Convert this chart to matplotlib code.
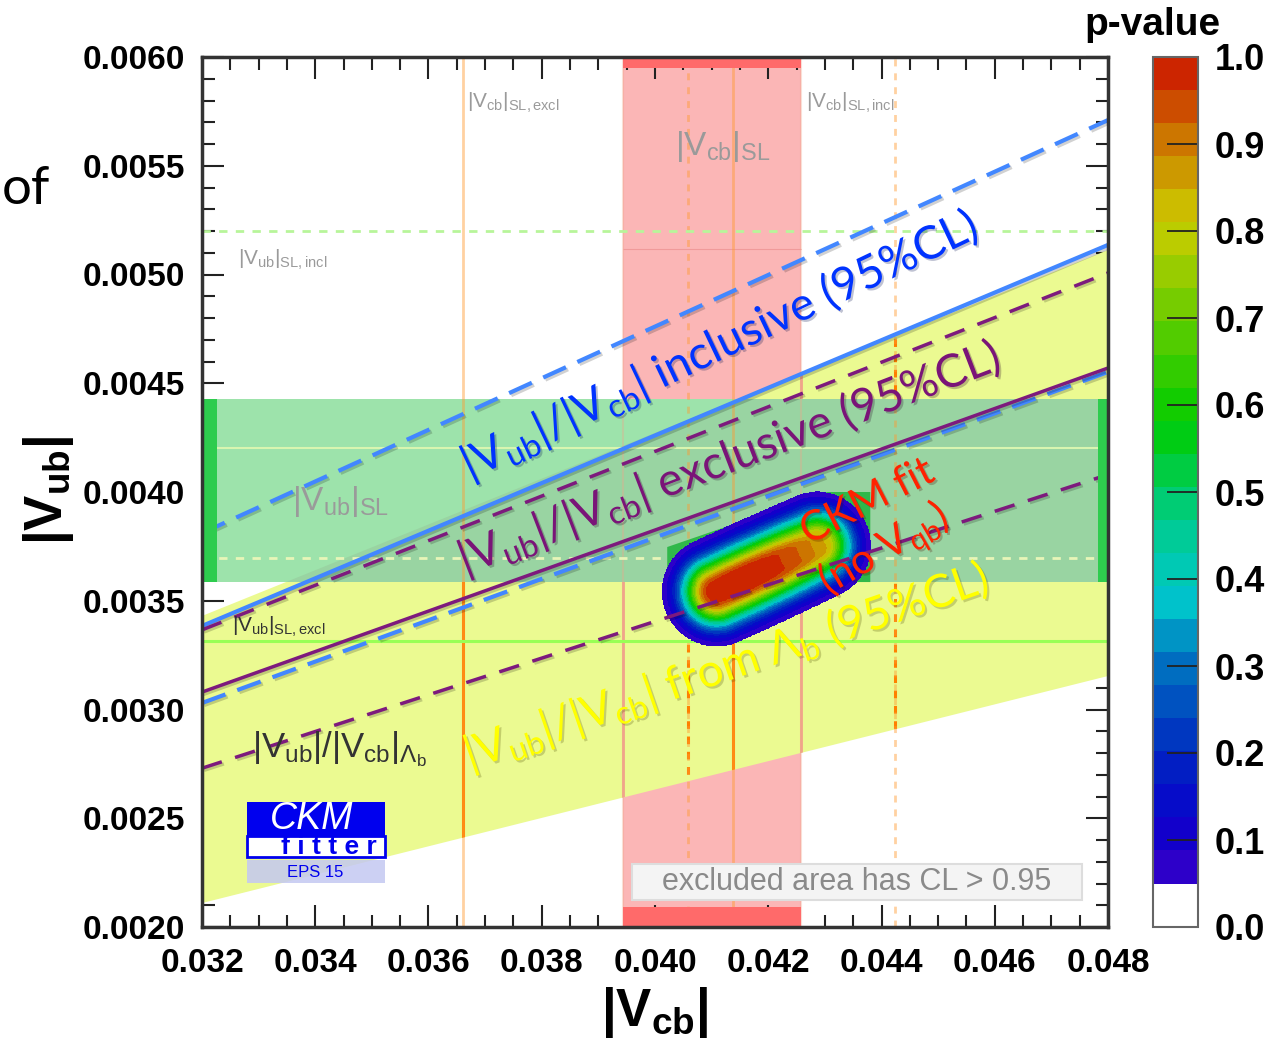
import numpy as np
import matplotlib
matplotlib.use("Agg")
import matplotlib.pyplot as plt
import matplotlib.patheffects as pe
from matplotlib.colors import LinearSegmentedColormap, ListedColormap, BoundaryNorm
from matplotlib.patches import Rectangle, Polygon
from matplotlib.ticker import MultipleLocator, FormatStrFormatter
from matplotlib.cm import ScalarMappable

plt.rcParams['font.family'] = ['Liberation Sans', 'DejaVu Sans']
plt.rcParams['mathtext.fontset'] = 'custom'
plt.rcParams['mathtext.rm'] = 'Liberation Sans'
plt.rcParams['mathtext.it'] = 'Liberation Sans:italic'
plt.rcParams['mathtext.bf'] = 'Liberation Sans:bold'
plt.rcParams['mathtext.sf'] = 'Lato'

# axis ranges
vcb_range = [0.032, 0.048]
vub_range = [0.0020, 0.0060]

# |Vub| of each ratio line at the two ends of the |Vcb| range
incl_upper = [0.003811, 0.005710]
incl_central = [0.003384, 0.005136]
incl_lower = [0.003030, 0.004552]
excl_upper = [0.003366, 0.005007]
excl_central = [0.003080, 0.004570]
excl_lower = [0.002730, 0.004080]
lambdab_hi = [0.003430, 0.005113]
lambdab_lo = [0.002110, 0.003154]

# semileptonic |Vcb| and |Vub| constraints
vcb_sl_band = [0.03944, 0.04258]
vcb_solid_lines = [0.03661, 0.04138]
vcb_dotted_lines = [0.04059, 0.04424]
vub_sl_band = [0.003586, 0.004428]
vub_sl_central = 0.004202
vub_incl_line = 0.005200
vub_inner_dotted = 0.003697
vub_excl_line = 0.003315
vcb_sl_edge_line = 0.005117

# CKM fit: p-value valley along a short segment
fit_start = [0.041064, 0.0035402]
fit_end = [0.042883, 0.0037563]
fit_radius_px = 55
fit_core_px = 7
fit_peak_t = 0.25
fit_along_width = 1.4
fit_shelf = [[0.040216, 0.043042, 0.043802, 0.043802, 0.040216],
             [0.003747, 0.004000, 0.004000, 0.003586, 0.003586]]

# p-value palette anchors
pal_levels = [0.05, 0.12, 0.20, 0.30, 0.38, 0.47, 0.58, 0.70, 0.81, 0.89, 1.00]
pal_colors = ['#3a00c8', '#0800cc', '#0028c0', '#0070c0', '#00c8cc', '#00cc88',
              '#00cc00', '#66cc00', '#cccc00', '#cc8800', '#cc1100']
cbar_ticks = [0.0, 0.1, 0.2, 0.3, 0.4, 0.5, 0.6, 0.7, 0.8, 0.9, 1.0]

W, H = 1281, 1050
fig = plt.figure(figsize=(W / 100, H / 100), dpi=100)
ax = fig.add_axes([202 / W, 1 - 927 / H, 906 / W, 870 / H])
cax = fig.add_axes([1153 / W, 1 - 927 / H, 45 / W, 870 / H])
ax.set_xlim(vcb_range)
ax.set_ylim(vub_range)

x_ends = np.array(vcb_range)

# |Vcb| SL band and the vertical lines
ax.axvspan(*vcb_sl_band, color='#fbb6b6', lw=0, zorder=1)
ax.hlines(vcb_sl_edge_line, *vcb_sl_band, color='#f09a9a', lw=0.8, zorder=1.1)

# Lambda_b ratio band
yellow = Polygon(np.column_stack([np.r_[x_ends, x_ends[::-1]],
                                  np.r_[lambdab_lo, lambdab_hi[::-1]]]),
                 closed=True, fc='#ebfa91', ec='none', zorder=2)
ax.add_patch(yellow)

for xv in vcb_solid_lines:
    ln = ax.axvline(xv, color='#ff7f00', lw=2.2, zorder=2.2)
    ln.set_clip_path(yellow)
for xv in vcb_dotted_lines:
    ln = ax.axvline(xv, color='#ff8000', lw=2.2, ls=(0, (2.5, 2.5)), zorder=2.2)
    ln.set_clip_path(yellow)
for xv in vcb_sl_band:
    ln = ax.axvline(xv, color='#f0a48a', lw=2, zorder=2.2)
    ln.set_clip_path(yellow)

# |Vub| SL band
green = Rectangle((vcb_range[0], vub_sl_band[0]), vcb_range[1] - vcb_range[0],
                  vub_sl_band[1] - vub_sl_band[0], fc='#9de3ab', ec='none', zorder=3)
ax.add_patch(green)
overlap = Polygon(yellow.get_xy(), closed=True, fc='#99d4a2', ec='none', zorder=3.05)
ax.add_patch(overlap)
overlap.set_clip_path(green)

# faint vertical lines seen through everything
for xv in vcb_solid_lines:
    ax.axvline(xv, color='#ff9a30', lw=2, alpha=0.45, zorder=3.1)
for xv in vcb_dotted_lines:
    ax.axvline(xv, color='#ff9a30', lw=2, ls=(0, (2.5, 2.5)), alpha=0.45, zorder=3.1)
for xv in vcb_sl_band:
    ax.axvline(xv, color='#f0a48a', lw=1.5, alpha=0.35, zorder=3.1)

# horizontal |Vub| lines
ax.axhline(vub_sl_central, color='#d8f5b0', lw=1.5, zorder=3.2)
ax.axhline(vub_incl_line, color='#b8f59a', lw=2, ls=(0, (3, 3)), zorder=3.2)
ax.axhline(vub_inner_dotted, color='#e8f5b8', lw=2, ls=(0, (3, 3)), zorder=3.2)
ax.axhline(vub_excl_line, color='#99ff55', lw=2.2, zorder=3.2)

# CKM fit p-value map
ax.add_patch(Polygon(np.column_stack(fit_shelf), closed=True, fc='#30b84a',
                     ec='none', zorder=3.3))

boundaries = np.concatenate([[0.0], np.linspace(0.05, 1.0, 26)])
pal = LinearSegmentedColormap.from_list('pval', list(zip(
    (np.array(pal_levels) - 0.05) / 0.95, pal_colors)))
band_colors = ['white'] + [pal((b0 - 0.05) / 0.95 + 0.5 / 25)
                           for b0 in boundaries[1:-1]]
cmap = ListedColormap(band_colors)
cmap.set_bad((0, 0, 0, 0))
norm = BoundaryNorm(boundaries, cmap.N)


def to_px(vcb, vub):
    return ((np.asarray(vcb) - vcb_range[0]) / (vcb_range[1] - vcb_range[0]) * 906,
            (np.asarray(vub) - vub_range[0]) / (vub_range[1] - vub_range[0]) * 870)


gx = np.linspace(0.0395, 0.0450, 550)
gy = np.linspace(0.0031, 0.0042, 420)
GX, GY = np.meshgrid(gx, gy)
u, w = to_px(GX, GY)
au, aw = to_px(*fit_start)
bu, bw = to_px(*fit_end)
seg = np.array([bu - au, bw - aw])
seg_len2 = seg @ seg
t = ((u - au) * seg[0] + (w - aw) * seg[1]) / seg_len2
tc = np.clip(t, 0, 1)
d = np.hypot(u - (au + tc * seg[0]), w - (aw + tc * seg[1]))
d = np.clip(d - fit_core_px, 0, None)
sig = (fit_radius_px - fit_core_px) / np.sqrt(-2 * np.log(0.05))
pval = np.exp(-0.5 * (d / sig) ** 2 - 0.5 * ((t - fit_peak_t) / fit_along_width) ** 2)
pval = np.ma.masked_less(pval, 0.05)
ax.imshow(pval, extent=[gx[0], gx[-1], gy[0], gy[-1]], origin='lower',
          aspect='auto', cmap=cmap, norm=norm, interpolation='nearest', zorder=3.5)

# ratio lines
shadow = [pe.SimpleLineShadow(offset=(1.5, -1.5), alpha=0.18), pe.Normal()]
blue, purple = '#4287ff', '#7d1a7d'
ax.plot(x_ends, incl_upper, color=blue, lw=3, ls=(0, (6, 3)), path_effects=shadow, zorder=4)
ax.plot(x_ends, incl_central, color=blue, lw=3, path_effects=shadow, zorder=4)
ax.plot(x_ends, incl_lower, color=blue, lw=3, ls=(0, (6, 3)), path_effects=shadow, zorder=4)
ax.plot(x_ends, excl_upper, color=purple, lw=2.5, ls=(0, (6, 4)), path_effects=shadow, zorder=4.1)
ax.plot(x_ends, excl_central, color=purple, lw=2.5, path_effects=shadow, zorder=4.1)
ax.plot(x_ends, excl_lower, color=purple, lw=2.5, ls=(0, (6, 4)), path_effects=shadow, zorder=4.1)

# constraint strips on the frame
ax.add_patch(Rectangle((vcb_sl_band[0], 0), vcb_sl_band[1] - vcb_sl_band[0], 0.023,
                       transform=ax.get_xaxis_transform(), fc='#ff6a6a', ec='none', zorder=4.5))
ax.add_patch(Rectangle((vcb_sl_band[0], 1 - 0.0127), vcb_sl_band[1] - vcb_sl_band[0], 0.0127,
                       transform=ax.get_xaxis_transform(), fc='#ff6a6a', ec='none', zorder=4.5))
ax.add_patch(Rectangle((0, vub_sl_band[0]), 0.0166, vub_sl_band[1] - vub_sl_band[0],
                       transform=ax.get_yaxis_transform(), fc='#2ecc4e', ec='none', zorder=4.5))
ax.add_patch(Rectangle((1 - 0.011, vub_sl_band[0]), 0.011, vub_sl_band[1] - vub_sl_band[0],
                       transform=ax.get_yaxis_transform(), fc='#2ecc4e', ec='none', zorder=4.5))

# gray constraint labels
gray = '#9a9a9a'
ax.text(0.03668, 0.005766, r'$\mathrm{|V_{cb}|_{SL,excl}}$', color=gray, fontsize=15, zorder=5)
ax.text(0.042671, 0.005766, r'$\mathrm{|V_{cb}|_{SL,incl}}$', color=gray, fontsize=15, zorder=5)
ax.text(0.040357, 0.005549, r'$\mathrm{|V_{cb}|_{SL}}$', color=gray, fontsize=24, zorder=5)
ax.text(0.032636, 0.005044, r'$\mathrm{|V_{ub}|_{SL,incl}}$', color=gray, fontsize=15, zorder=5)
ax.text(0.03359, 0.003917, r'$\mathrm{|V_{ub}|_{SL}}$', color=gray, fontsize=24, zorder=5)
ax.text(0.03253, 0.003356, r'$\mathrm{|V_{ub}|_{SL,excl}}$', color='#333333', fontsize=15, zorder=5)
ax.text(0.032883, 0.002782, r'$\mathrm{|V_{ub}|/|V_{cb}|_{\Lambda_b}}$', color='#333333',
        fontsize=25, zorder=5)

# big ratio labels
tshadow = [pe.withSimplePatchShadow(offset=(1.5, -1.5), alpha=0.25)]
big = dict(fontsize=33, family=['Lato', 'DejaVu Sans'], rotation_mode='anchor',
           ha='left', va='baseline', zorder=6, path_effects=tshadow)
ax.text(0.036735, 0.004055, r'$\mathsf{|V_{ub}|/|V_{cb}|}$ inclusive (95%CL)',
        color='#0033ff', rotation=25.5, **big)
ax.text(0.036647, 0.003618, r'$\mathsf{|V_{ub}|/|V_{cb}|}$ exclusive (95%CL)',
        color='#7a1478', rotation=21, **big)
ax.text(0.036735, 0.002722, r'$\mathsf{|V_{ub}|/|V_{cb}|}$ from Λ$_\mathsf{b}$ (95%CL)',
        color='#ffff00', rotation=19, **big)
big['fontsize'] = 30
ax.text(0.042707, 0.003756, 'CKM fit', color='#ff2200', rotation=27, **big)
ax.text(0.04306, 0.003526, r'(no V$_\mathsf{qb}$)', color='#ff2200', rotation=30, **big)

# CKMfitter logo
logo_blue = '#0000ee'
ax.add_patch(Rectangle((0.0497, 0.1046), 0.1523, 0.0391, transform=ax.transAxes,
                       fc=logo_blue, ec='none', zorder=6))
ax.add_patch(Rectangle((0.0497, 0.0805), 0.1523, 0.0241, transform=ax.transAxes,
                       fc='white', ec=logo_blue, lw=2, zorder=6))
ax.add_patch(Rectangle((0.0497, 0.0506), 0.1523, 0.0264, transform=ax.transAxes,
                       fc='#c4c8f2', ec='none', alpha=0.85, zorder=6))
ax.text(0.121, 0.124, 'CKM', transform=ax.transAxes, color='white', fontsize=27,
        style='italic', ha='center', va='center', zorder=7)
ax.text(0.14, 0.0915, 'f i t t e r', transform=ax.transAxes, color=logo_blue, fontsize=19,
        weight='bold', ha='center', va='center', zorder=7)
ax.text(0.125, 0.063, 'EPS 15', transform=ax.transAxes, color=logo_blue, fontsize=12,
        ha='center', va='center', zorder=7)

# exclusion note
ax.add_patch(Rectangle((0.4746, 0.031), 0.4967, 0.0414, transform=ax.transAxes,
                       fc='#f4f4f4', ec='#dddddd', lw=1.5, zorder=6))
ax.text(0.723, 0.052, 'excluded area has CL > 0.95', transform=ax.transAxes,
        color='#8a8a8a', fontsize=22, ha='center', va='center', zorder=7)

# axes styling
ax.xaxis.set_major_locator(MultipleLocator(0.002))
ax.xaxis.set_minor_locator(MultipleLocator(0.0005))
ax.yaxis.set_major_locator(MultipleLocator(0.0005))
ax.yaxis.set_minor_locator(MultipleLocator(0.0001))
ax.xaxis.set_major_formatter(FormatStrFormatter('%.3f'))
ax.yaxis.set_major_formatter(FormatStrFormatter('%.4f'))
ax.tick_params(which='both', direction='in', top=True, right=True, color='#222222',
               width=1.5, labelsize=24)
ax.tick_params(which='major', length=16)
ax.tick_params(which='minor', length=9)
ax.tick_params(axis='x', pad=15)
ax.tick_params(axis='y', pad=12)
for lab in ax.get_xticklabels() + ax.get_yticklabels():
    lab.set_fontweight('bold')
for sp in ax.spines.values():
    sp.set_linewidth(2.5)
    sp.set_color('#333333')
    sp.set_zorder(8)

# colorbar
cb = fig.colorbar(ScalarMappable(norm=norm, cmap=cmap), cax=cax, ticks=cbar_ticks,
                  spacing='proportional')
cb.ax.yaxis.set_major_formatter(FormatStrFormatter('%.1f'))
cb.ax.tick_params(direction='in', length=22, width=1.3, color='#222222', labelsize=26, pad=12)
for lab in cb.ax.get_yticklabels():
    lab.set_fontweight('bold')
cb.outline.set_linewidth(1.5)
cb.outline.set_edgecolor('#666666')
cb.ax.minorticks_off()

fig.text(1152 / W, 1 - 25 / H, 'p-value', fontsize=28, weight='bold', ha='center', va='center')
fig.text(655 / W, 1 - 1012 / H, r'$\mathbf{|V_{cb}|}$', fontsize=38, ha='center', va='center')
fig.text(48 / W, 1 - 490 / H, r'$\mathbf{|V_{ub}|}$', fontsize=38, ha='center', va='center',
         rotation=90)
fig.text(2 / W, 1 - 190 / H, 'of', fontsize=38, family=['Lato', 'DejaVu Sans'],
         ha='left', va='center')

fig.savefig('out.png', dpi=100)
